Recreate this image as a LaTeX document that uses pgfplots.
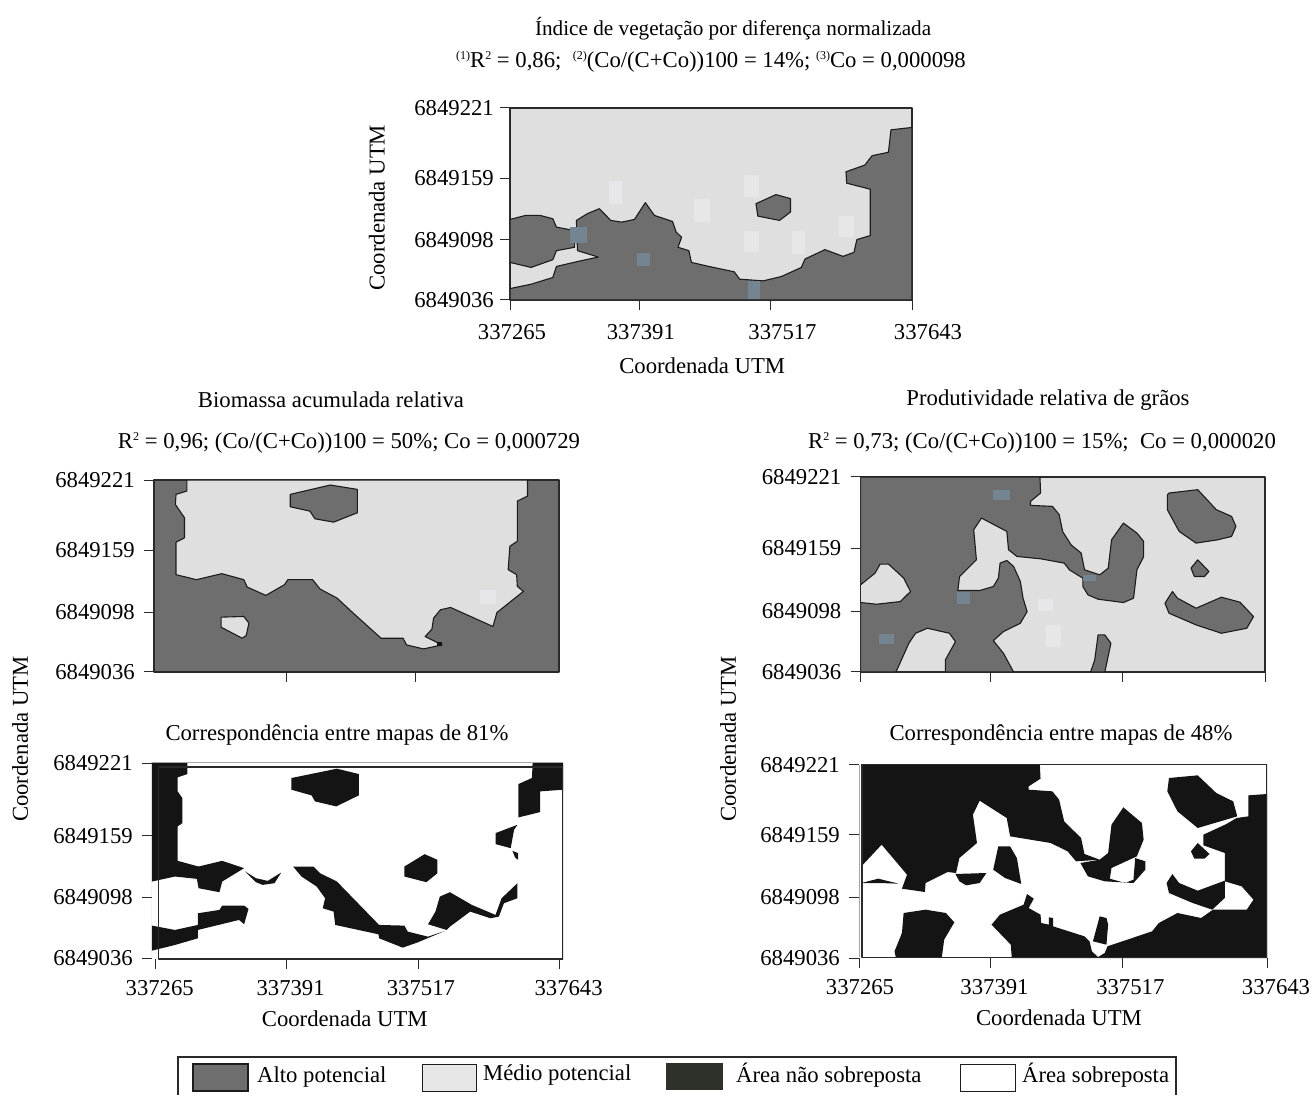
\documentclass[border=0pt]{standalone}
\usepackage{fontspec}
\setmainfont{Liberation Serif}
\usepackage{pgfplots}
\pgfplotsset{compat=1.18}
\definecolor{alto}{HTML}{6E6E6E}
\definecolor{medio}{HTML}{DFDFDF}
\definecolor{patchl}{HTML}{E7E7E9}
\definecolor{patchb}{HTML}{748490}
\definecolor{negro}{HTML}{141414}
\definecolor{edge}{HTML}{1C1C1C}
\definecolor{frame}{HTML}{2A2A2A}
\definecolor{legdark}{HTML}{2E302A}
\newcommand{\sz}{\fontsize{22.7}{26}\selectfont}
\newcommand{\supr}[1]{\raisebox{8pt}{\fontsize{12}{12}\selectfont #1}}
\newcommand{\rect}[5]{\addplot[#5] coordinates {(#1,#3)(#2,#3)(#2,#4)(#1,#4)} --cycle;}
\newcommand{\px}[2]{(#1pt,{1095pt-#2pt})}
\newcommand{\sh}[2]{\hspace*{#1pt}#2}
\pgfplotsset{
  every axis/.append style={
    scale only axis, anchor=south west, y dir=reverse,
    font=\sz, tick align=outside, major tick length=10pt,
    xtick pos=lower, ytick pos=left,
    tick style={draw=frame,line width=1pt},
    axis line style={draw=frame,line width=1.3pt},
    yticklabel style={inner sep=1pt,xshift=-8pt},
    xticklabel style={inner sep=1pt,yshift=-10pt},
    title style={anchor=center,font=\sz,yshift=-7pt},
    xlabel style={anchor=center,font=\sz},
    ylabel style={anchor=center,font=\sz},
    line join=round,
  },
  dk/.style={fill=alto,draw=edge,line width=1.1pt,line join=round},
  lg/.style={fill=medio,draw=edge,line width=1.1pt,line join=round},
  pl/.style={fill=patchl,draw=none},
  pb/.style={fill=patchb,draw=none},
  bk/.style={fill=negro,draw=none},
}
\begin{document}
\begin{tikzpicture}[x=1pt,y=1pt]
\path[use as bounding box] (0pt,0pt) rectangle (1314pt,1095pt);

% ---------- NDVI ----------
\begin{axis}[at={(510pt,795pt)},width=402pt,height=192pt,
  xmin=412,xmax=1520,ymin=40,ymax=612,
  axis background/.style={fill=medio},
  yticklabel style={xshift=3pt},
  xticklabel style={yshift=-3pt},
  xtick={412,770,1130,1520},xticklabels={\sh{4}{337265},\sh{2}{337391},\sh{24}{337517},\sh{32}{337643}},
  ytick={40,249,432,612},yticklabels={6849221,6849159,6849098,6849036},
  title={\fontsize{21.2}{26}\selectfont Índice de vegetação por diferença normalizada},
  title style={at={(axis description cs:0.555,1.417)}},
  xlabel={Coordenada UTM},xlabel style={at={(axis description cs:0.478,-0.344)}},
  ylabel={Coordenada UTM},ylabel style={at={(axis description cs:-0.331,0.48)}}]
\addplot[dk] coordinates {(412,578)(470,565)(530,545)(540,512)(600,497)(655,484)(598,465)(595,375)(625,355)(658,340)(690,375)(720,380)(755,372)(785,322)(810,360)(860,378)(870,410)(885,425)(875,455)(905,465)(912,500)(960,512)(1030,528)(1045,550)(1110,555)(1160,542)(1215,515)(1225,490)(1280,462)(1330,482)(1360,470)(1368,432)(1405,420)(1405,282)(1340,264)(1338,230)(1390,210)(1410,182)(1455,172)(1462,105)(1520,98)(1520,612)(412,612)} --cycle;
\addplot[dk] coordinates {(412,372)(455,360)(495,360)(530,370)(540,395)(590,405)(590,455)(540,465)(530,492)(470,515)(412,500)} --cycle;
\addplot[dk] coordinates {(1090,325)(1145,298)(1185,310)(1185,350)(1155,375)(1095,362)} --cycle;
\rect{685}{722}{258}{325}{pl}
\rect{1057}{1098}{240}{305}{pl}
\rect{920}{962}{312}{380}{pl}
\rect{1057}{1098}{405}{468}{pl}
\rect{1188}{1225}{405}{475}{pl}
\rect{1320}{1360}{362}{425}{pl}
\rect{578}{625}{395}{442}{pb}
\rect{762}{798}{472}{510}{pb}
\rect{1067}{1100}{555}{608}{pb}
\end{axis}

% ---------- Biomassa ----------
\begin{axis}[at={(154pt,423pt)},width=405pt,height=192pt,
  xmin=340,xmax=1535,ymin=32,ymax=606,
  axis background/.style={fill=alto},
  xtick={730,1113},xticklabels={},
  ytick={32,242,427,606},yticklabels={6849221,6849159,6849098,6849036},
  title={Biomassa acumulada relativa},
  title style={at={(axis description cs:0.437,1.422)}}]
\addplot[lg] coordinates {(437,32)(437,65)(405,75)(403,105)(430,145)(430,205)(405,218)(405,315)(465,330)(540,312)(605,330)(615,352)(670,377)(725,345)(735,330)(808,330)(830,358)(880,385)(930,432)(1010,505)(1075,505)(1085,525)(1135,537)(1190,525)(1140,500)(1160,478)(1165,445)(1185,420)(1215,413)(1340,470)(1352,428)(1430,365)(1412,350)(1410,315)(1385,300)(1390,230)(1412,215)(1412,95)(1442,80)(1442,32)} --cycle;
\addplot[dk] coordinates {(742,75)(860,47)(940,60)(940,130)(870,158)(815,148)(800,125)(742,112)} --cycle;
\addplot[lg] coordinates {(538,442)(605,440)(620,460)(612,497)(600,505)(538,472)} --cycle;
\rect{1303}{1350}{360}{402}{pl}
\rect{1175}{1190}{515}{527}{bk}
\end{axis}

% ---------- Produtividade ----------
\begin{axis}[at={(860.5pt,423pt)},width=404.5pt,height=195pt,
  xmin=327,xmax=1524,ymin=22,ymax=606,
  axis background/.style={fill=medio},
  xtick={327,713,1102,1524},xticklabels={},
  ytick={22,235,424,606},yticklabels={6849221,6849159,6849098,6849036},
  title={Produtividade relativa de grãos},
  title style={at={(axis description cs:0.4635,1.4)}}]
\addplot[dk] coordinates {(327,22)(858,22)(860,70)(830,95)(830,107)(895,110)(915,135)(925,185)(950,225)(980,250)(990,300)(1035,315)(1060,295)(1070,210)(1105,160)(1145,190)(1165,215)(1165,260)(1145,300)(1135,385)(1105,398)(1030,388)(1000,375)(985,350)(985,325)(945,300)(930,280)(860,267)(790,260)(765,240)(760,185)(685,145)(662,180)(670,270)(620,320)(615,362)(680,362)(720,350)(735,325)(740,280)(760,272)(780,290)(800,335)(808,385)(820,425)(800,460)(750,485)(720,512)(750,550)(780,606)(578,606)(578,570)(608,515)(590,490)(525,475)(490,490)(470,520)(432,606)(327,606)(327,398)(375,403)(445,395)(475,365)(455,325)(410,283)(385,283)(370,310)(327,345)} --cycle;
\addplot[dk] coordinates {(1240,70)(1325,60)(1380,120)(1425,140)(1438,170)(1425,200)(1385,210)(1320,220)(1270,185)(1235,120)(1235,75)} --cycle;
\addplot[dk] coordinates {(1325,270)(1358,305)(1345,320)(1315,320)(1305,295)} --cycle;
\addplot[dk] coordinates {(1250,365)(1265,385)(1320,415)(1395,382)(1450,397)(1490,440)(1470,475)(1395,490)(1320,465)(1240,430)(1228,400)} --cycle;
\addplot[dk] coordinates {(1030,495)(1050,495)(1068,520)(1050,606)(1008,606)(1020,570)} --cycle;
\rect{720}{768}{60}{90}{pb}
\rect{612}{652}{365}{402}{pb}
\rect{382}{427}{492}{522}{pb}
\rect{985}{1025}{315}{333}{pb}
\rect{852}{898}{388}{422}{pl}
\rect{875}{920}{465}{532}{pl}
\end{axis}

% ---------- Correspondencia 81 ----------
\begin{axis}[at={(152pt,136pt)},width=411pt,height=197pt,
  xmin=332,xmax=1550,ymin=22,ymax=612,
  axis line style={draw=none},
  xtick={343,731,1123,1540},xticklabels={\sh{8}{337265},\sh{8}{337391},\sh{4}{337517},\sh{18}{337643}},
  ytick={25,243,427,610},yticklabels={6849221,6849159,6849098,6849036},
  title={Correspondência entre mapas de 81\%},
  title style={at={(axis description cs:0.45,1.142)}},
  xlabel={Coordenada UTM},xlabel style={at={(axis description cs:0.469,-0.305)}},
  ylabel={Coordenada UTM},ylabel style={at={(axis description cs:-0.321,1.117)}}]
\addplot[bk] coordinates {(332,22)(437,22)(437,58)(408,68)(408,110)(422,130)(422,205)(408,215)(408,318)(470,335)(540,318)(605,340)(540,380)(532,412)(470,400)(465,372)(400,365)(332,380)} --cycle;
\addplot[bk] coordinates {(750,335)(810,335)(830,355)(880,380)(1005,510)(1080,512)(1090,530)(1150,545)(1200,528)(1120,562)(1075,578)(1005,550)(1003,538)(875,510)(870,470)(838,460)(845,430)(820,395)(775,365)} --cycle;
\addplot[bk] coordinates {(1150,508)(1172,470)(1185,425)(1215,412)(1280,450)(1350,480)(1368,430)(1415,385)(1415,430)(1375,445)(1360,485)(1335,490)(1275,470)(1215,515)(1205,525)} --cycle;
\addplot[bk] coordinates {(745,70)(880,42)(945,58)(945,122)(878,155)(815,140)(805,122)(745,105)} --cycle;
\addplot[bk] coordinates {(1460,22)(1550,22)(1550,105)(1482,110)(1482,172)(1418,188)(1418,88)(1458,70)} --cycle;
\addplot[bk] coordinates {(1415,210)(1405,225)(1395,280)(1350,268)(1350,235)} --cycle;
\addplot[bk] coordinates {(1400,288)(1417,295)(1417,315)(1408,308)} --cycle;
\addplot[bk] coordinates {(1080,335)(1140,298)(1178,315)(1178,355)(1145,382)(1080,365)} --cycle;
\addplot[bk] coordinates {(608,350)(640,370)(675,378)(715,353)(695,385)(660,390)(640,382)} --cycle;
\addplot[bk] coordinates {(332,512)(400,525)(468,510)(468,475)(532,465)(540,452)(605,452)(618,462)(605,508)(590,495)(468,525)(468,550)(400,570)(332,587)} --cycle;
\addplot[draw=frame,line width=1.2pt] coordinates {(352,37)(1550,37)(1550,612)(352,612)} --cycle;
\addplot[draw=black!35,line width=1pt] coordinates {(332,612)(332,24)(1550,24)};
\end{axis}

% ---------- Correspondencia 48 ----------
\begin{axis}[at={(859pt,137pt)},width=408pt,height=194pt,
  xmin=323,xmax=1530,ymin=28,ymax=610,
  axis line style={draw=none},
  xtick={323,712,1102,1530},xticklabels={\sh{2}{337265},\sh{8}{337391},\sh{16}{337517},\sh{18}{337643}},
  ytick={30,240,428,610},yticklabels={6849221,6849159,6849098,6849036},
  title={Correspondência entre mapas de 48\%},
  title style={at={(axis description cs:0.495,1.155)}},
  xlabel={Coordenada UTM},xlabel style={at={(axis description cs:0.49,-0.31)}},
  ylabel={Coordenada UTM},ylabel style={at={(axis description cs:-0.321,1.129)}}]
\addplot[bk] coordinates {(330,28)(858,28)(860,72)(825,95)(825,105)(895,110)(915,135)(930,200)(980,250)(990,298)(1035,315)(965,320)(940,290)(890,265)(770,245)(760,190)(680,138)(660,180)(672,265)(620,310)(610,355)(585,352)(520,385)(518,412)(450,402)(465,360)(390,270)(330,335)} --cycle;
\addplot[bk] coordinates {(1035,315)(1060,295)(1070,210)(1105,158)(1160,205)(1165,255)(1145,305)(1070,340)(1065,372)(1110,385)(1135,375)(1140,310)(1170,320)(1170,345)(1135,385)(1050,380)(1000,365)(978,325)} --cycle;
\addplot[bk] coordinates {(608,358)(700,355)(680,385)(640,392)(620,380)} --cycle;
\addplot[bk] coordinates {(720,345)(735,275)(770,275)(790,310)(803,388)(755,370)} --cycle;
\addplot[bk] coordinates {(330,385)(380,372)(440,387)(380,385)} --cycle;
\addplot[bk] coordinates {(1240,70)(1325,62)(1380,115)(1430,140)(1442,185)(1325,220)(1265,170)(1235,110)} --cycle;
\addplot[bk] coordinates {(775,610)(772,570)(715,510)(740,480)(810,450)(820,418)(840,432)(825,460)(860,480)(862,505)(885,510)(885,488)(897,490)(897,515)(990,545)(1005,560)(1012,590)(1030,607)(1050,595)(1058,575)(1190,530)(1210,505)(1265,475)(1335,490)(1370,465)(1470,465)(1490,435)(1455,395)(1405,380)(1405,295)(1342,272)(1342,240)(1410,208)(1440,190)(1475,185)(1475,122)(1530,118)(1530,610)} --cycle;
\addplot[bk] coordinates {(1015,560)(1035,485)(1055,490)(1060,510)(1055,570)} --cycle;
\addplot[bk] coordinates {(1325,265)(1360,298)(1345,312)(1315,312)(1305,290)} --cycle;
\addplot[bk] coordinates {(455,475)(520,465)(580,475)(605,503)(575,555)(568,608)(432,608)(428,590)(450,535)} --cycle;
\addplot[bk] coordinates {(1250,358)(1270,385)(1325,408)(1405,378)(1405,430)(1368,465)(1310,445)(1240,415)(1233,385)} --cycle;
\addplot[draw=frame,line width=1.2pt] coordinates {(332,30)(1530,30)(1530,608)(332,608)} --cycle;
\addplot[draw=black!35,line width=1pt] coordinates {(325,608)(325,30)};
\end{axis}

% ---------- subtitles ----------
\node[font=\sz,inner sep=0pt] at \px{711}{62} {\supr{(1)}R\supr{2} = 0,86;\ \ \supr{(2)}(Co/(C+Co))100 = 14\%; \supr{(3)}Co = 0,000098};
\node[font=\sz,inner sep=0pt] at \px{349}{443} {R\supr{2} = 0,96; (Co/(C+Co))100 = 50\%; Co = 0,000729};
\node[font=\sz,inner sep=0pt] at \px{1042}{443} {R\supr{2} = 0,73; (Co/(C+Co))100 = 15\%;\ \ Co = 0,000020};

% ---------- legend ----------
\draw[frame,line width=1.2pt] \px{178}{1095} -- \px{178}{1057} -- \px{1176}{1057} -- \px{1176}{1095};
\draw[fill=alto,draw=edge,line width=1.2pt] \px{193}{1064} rectangle \px{248}{1091};
\draw[fill=medio!75!white,draw=edge,line width=1pt] \px{422}{1064} rectangle \px{476}{1091};
\fill[legdark] \px{666}{1063} rectangle \px{723}{1090};
\draw[fill=white,draw=edge,line width=1pt] \px{960}{1064} rectangle \px{1015}{1091};
\node[font=\sz,inner sep=0pt,anchor=west] at \px{257}{1077} {Alto potencial};
\node[font=\sz,inner sep=0pt,anchor=west] at \px{483}{1075} {Médio potencial};
\node[font=\sz,inner sep=0pt,anchor=west] at \px{736}{1075} {Área não sobreposta};
\node[font=\sz,inner sep=0pt,anchor=west] at \px{1022}{1075} {Área sobreposta};
\end{tikzpicture}
\end{document}
